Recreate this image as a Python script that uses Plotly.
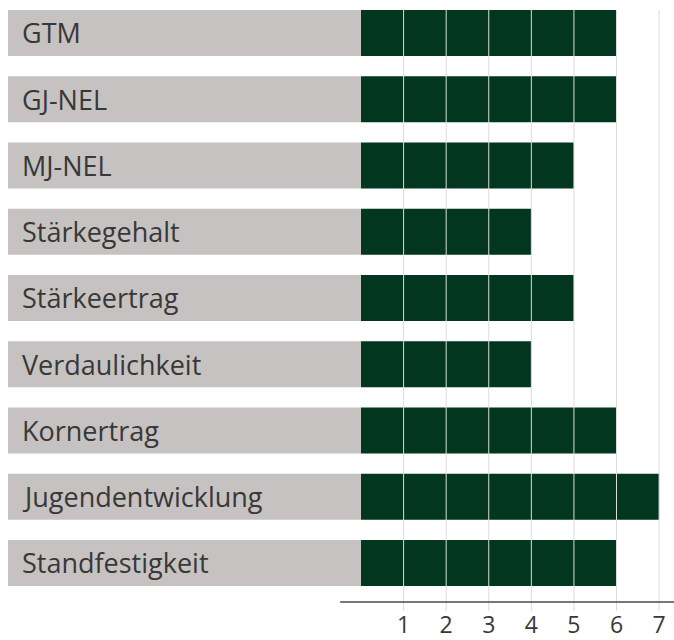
import plotly.graph_objects as go

categories = ["GTM", "GJ-NEL", "MJ-NEL", "Stärkegehalt", "Stärkeertrag",
              "Verdaulichkeit", "Kornertrag", "Jugendentwicklung", "Standfestigkeit"]
values = [6, 6, 5, 4, 5, 4, 6, 7, 6]
tick_vals = [1, 2, 3, 4, 5, 6, 7]

GREEN = "#02361f"
GREY = "#c6c2c1"
XMIN = -8.29
XMAX = 7.35
rows = list(range(len(categories)))

fig = go.Figure()
fig.add_trace(go.Bar(
    y=rows, x=[-XMIN] * len(rows), base=XMIN, orientation="h",
    marker=dict(color=GREY, line=dict(width=0)), width=0.694,
    hoverinfo="skip", showlegend=False))
fig.add_trace(go.Bar(
    y=rows, x=values, base=0, orientation="h",
    marker=dict(color=GREEN, line=dict(width=0)), width=0.694,
    showlegend=False))

for i, c in enumerate(categories):
    fig.add_annotation(x=XMIN + 0.27, y=i, text=c, xref="x", yref="y",
                       xanchor="left", yanchor="middle", showarrow=False,
                       font=dict(family="Open Sans", size=27, color="#383838"))

# gridlines drawn above bars, extending below the axis line as tick marks
for t in tick_vals:
    fig.add_shape(type="line", xref="x", yref="paper", x0=t, x1=t, y0=-9 / 592, y1=1,
                  layer="above", line=dict(color="#dcdcdc", width=1))

fig.add_shape(type="line", xref="x", yref="paper", x0=-0.49, x1=XMAX, y0=0, y1=0,
              line=dict(color="#4a4a4a", width=1.5))

fig.update_layout(
    width=674, height=640,
    margin=dict(l=8, r=0, t=10, b=38),
    plot_bgcolor="white", paper_bgcolor="white",
    barmode="overlay",
    xaxis=dict(range=[XMIN, XMAX], tickvals=tick_vals, showgrid=False,
               zeroline=False, showline=False, automargin=False,
               ticks="", ticklabelstandoff=7,
               tickfont=dict(family="Open Sans", size=23, color="#383838")),
    yaxis=dict(range=[8.59, -0.347], showticklabels=False, showgrid=False,
               zeroline=False, showline=False, automargin=False),
)

fig.write_html("out.html")
